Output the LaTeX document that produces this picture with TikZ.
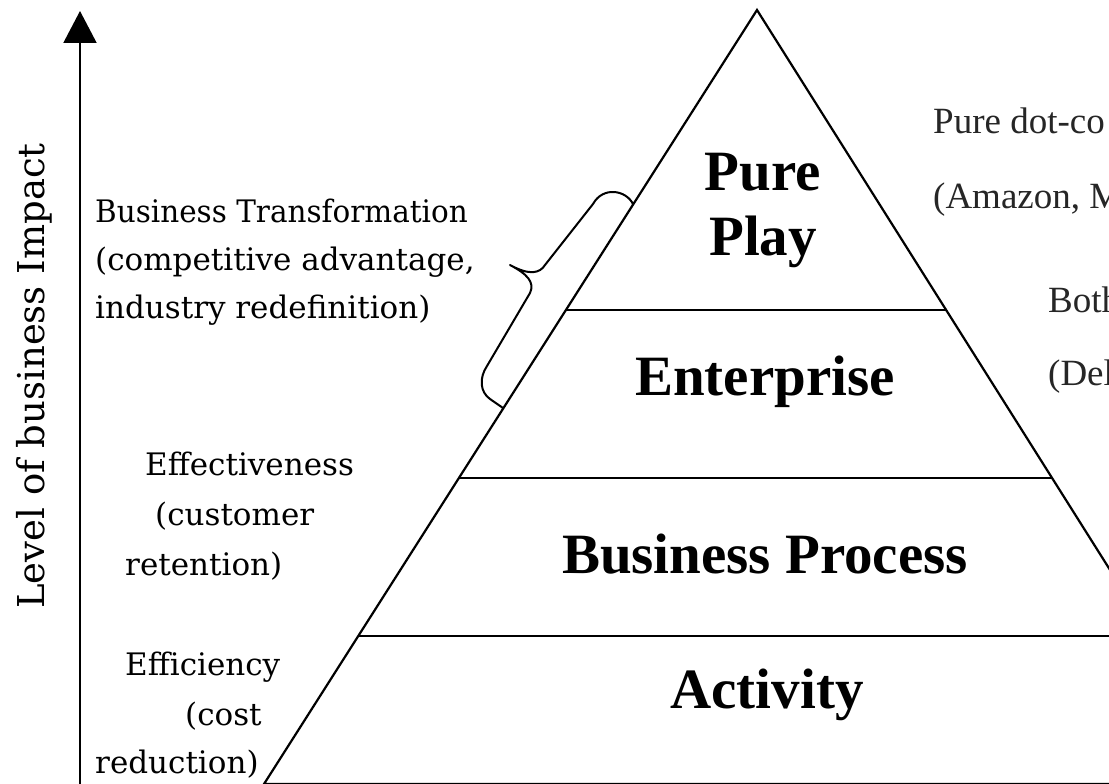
\documentclass[tikz,border=0pt]{standalone}
\usepackage{fontspec}
\setmainfont{Liberation Serif}
\newfontfamily\notefont{DejaVu Serif}
\usetikzlibrary{calc,arrows.meta}
\tikzset{
  edge/.style={line width=2.2pt},
  layer/.style={font=\fontsize{57}{60}\selectfont\bfseries, inner sep=0pt, anchor=base},
  note/.style={font=\notefont\fontsize{31}{34}\selectfont, inner sep=0pt, anchor=base west},
  axislabel/.style={font=\notefont\fontsize{37}{40}\selectfont, inner sep=0pt, anchor=base, rotate=90},
  side/.style={font=\fontsize{37}{40}\selectfont, inner sep=0pt, anchor=base west, text=black!85},
}
\begin{document}
\begin{tikzpicture}[x=1pt,y=-1pt]
\useasboundingbox (0,0) rectangle (1109,784);
\clip (0,0) rectangle (1109,784);
\fill[white] (0,0) rectangle (1109,784);

% pyramid outline
\coordinate (apex) at (757,10);
\coordinate (bl) at (264,784);
\coordinate (br) at (1245,784);
\draw[edge, line join=miter] (bl) -- (apex) -- (br) -- cycle;

% layer boundaries
\coordinate (l1) at ($(apex)!0.3876!(bl)$);
\coordinate (r1) at ($(apex)!0.3876!(br)$);
\coordinate (l2) at ($(apex)!0.6047!(bl)$);
\coordinate (r2) at ($(apex)!0.6047!(br)$);
\coordinate (l3) at ($(apex)!0.8088!(bl)$);
\coordinate (r3) at ($(apex)!0.8088!(br)$);
\draw[edge] (l1) -- (r1);
\draw[edge] (l2) -- (r2);
\draw[edge] (l3) -- (r3);

% layer names
\node[layer] (pure) at (763,190) {Pure};
\node[layer] (play) at (763,255) {Play};
\node[layer] (enterprise) at (765,395) {Enterprise};
\node[layer] (process) at (765,573) {Business Process};
\node[layer] (activity) at (767,708) {Activity};

% vertical axis
\coordinate (axbot) at (80,790);
\coordinate (axtop) at (80,11);
\draw[line width=2pt, -{Triangle[width=33pt,length=32pt]}] (axbot) -- (axtop);
\node[axislabel] (axlab) at (45,376) {Level of business Impact};

% brace along the upper two layers
\draw[line width=2pt, line join=round]
  (633,204) .. controls (626,190) and (603,186) .. (593,204)
  -- (545,265) .. controls (540,273) and (530,276) .. (510,265)
  .. controls (527,274) and (535,282) .. (530,293)
  -- (487,366) .. controls (479,378) and (480,392) .. (490,399)
  -- (503,408);

% notes on the left
\node[note] (bt1) at (95,222) {\scalebox{0.95}[1]{Business Transformation}};
\node[note] (bt2) at (95,270) {(competitive advantage,};
\node[note] (bt3) at (95,318) {industry redefinition)};
\node[note] (ef1) at (145,475) {Effectiveness};
\node[note] (ef2) at (155,525) {(customer};
\node[note] (ef3) at (125,575) {retention)};
\node[note] (ec1) at (125,675) {Efficiency};
\node[note] (ec2) at (185,725) {(cost};
\node[note] (ec3) at (95,773) {reduction)};

% notes on the right
\node[side] (pd1) at (933,133) {Pure dot-co};
\node[side] (pd2) at (933,208) {(Amazon, M};
\node[side] (bo1) at (1048,312) {Both};
\node[side] (bo2) at (1048,385) {(Del};
\end{tikzpicture}
\end{document}
